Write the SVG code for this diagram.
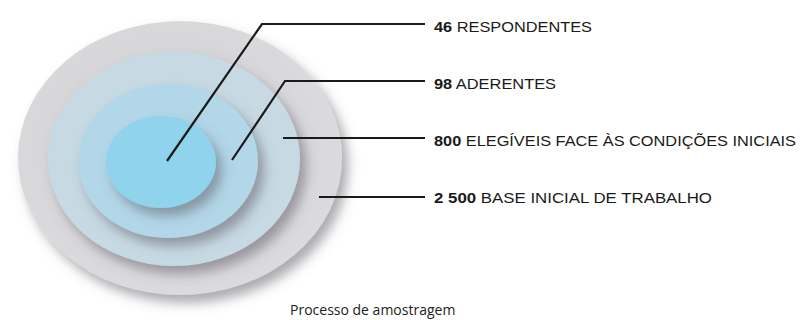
<svg xmlns="http://www.w3.org/2000/svg" width="802" height="320" viewBox="0 0 802 320">
<style>
.lbl{font-family:"Liberation Sans",Arial,sans-serif;font-size:15px;fill:#1a1a1a}
.num{font-weight:bold}
.conn{fill:none;stroke:#1a1a1a;stroke-width:2.2;stroke-linejoin:miter}
.cap{font-family:"Open Sans","Liberation Sans",sans-serif;font-size:14px;fill:#222}
</style>
<defs>
<filter id="sh" x="-20%" y="-20%" width="150%" height="150%">
<feDropShadow dx="6" dy="8" stdDeviation="6" flood-color="#5a5560" flood-opacity="0.5"/>
</filter>
<radialGradient id="g1" cx="0.45" cy="0.45" r="0.6">
<stop offset="0" stop-color="#cfcfd2"/><stop offset="1" stop-color="#dcdcde"/>
</radialGradient>
</defs>
<rect width="802" height="320" fill="#fff"/>
<g id="ring-2500"><ellipse cx="180" cy="158" rx="162" ry="137" fill="url(#g1)" filter="url(#sh)"/></g>
<g id="ring-800"><ellipse cx="174" cy="159" rx="126" ry="107" fill="#c7d9e3" filter="url(#sh)"/></g>
<g id="ring-98"><ellipse cx="168" cy="161" rx="90" ry="77" fill="#b2d7e8" filter="url(#sh)"/></g>
<g id="ring-46"><ellipse cx="161" cy="162" rx="55" ry="46" fill="#8fd3ec" filter="url(#sh)"/></g>
<g id="connectors">
<polyline class="conn" points="167,161 262,24 425,24"/>
<polyline class="conn" points="232,160 285,81 425,81"/>
<polyline class="conn" points="283,138 425,138"/>
<polyline class="conn" points="319,197 425,197"/>
</g>
<g id="label-46"><text class="lbl" x="434" y="32" textLength="158" lengthAdjust="spacingAndGlyphs"><tspan class="num">46</tspan> RESPONDENTES</text></g>
<g id="label-98"><text class="lbl" x="434" y="89" textLength="122" lengthAdjust="spacingAndGlyphs"><tspan class="num">98</tspan> ADERENTES</text></g>
<g id="label-800"><text class="lbl" x="434" y="146" textLength="362" lengthAdjust="spacingAndGlyphs"><tspan class="num">800</tspan> ELEGÍVEIS FACE ÀS CONDIÇÕES INICIAIS</text></g>
<g id="label-2500"><text class="lbl" x="434" y="203" textLength="278" lengthAdjust="spacingAndGlyphs"><tspan class="num">2 500</tspan> BASE INICIAL DE TRABALHO</text></g>
<text class="cap" x="290" y="315">Processo de amostragem</text>
</svg>
